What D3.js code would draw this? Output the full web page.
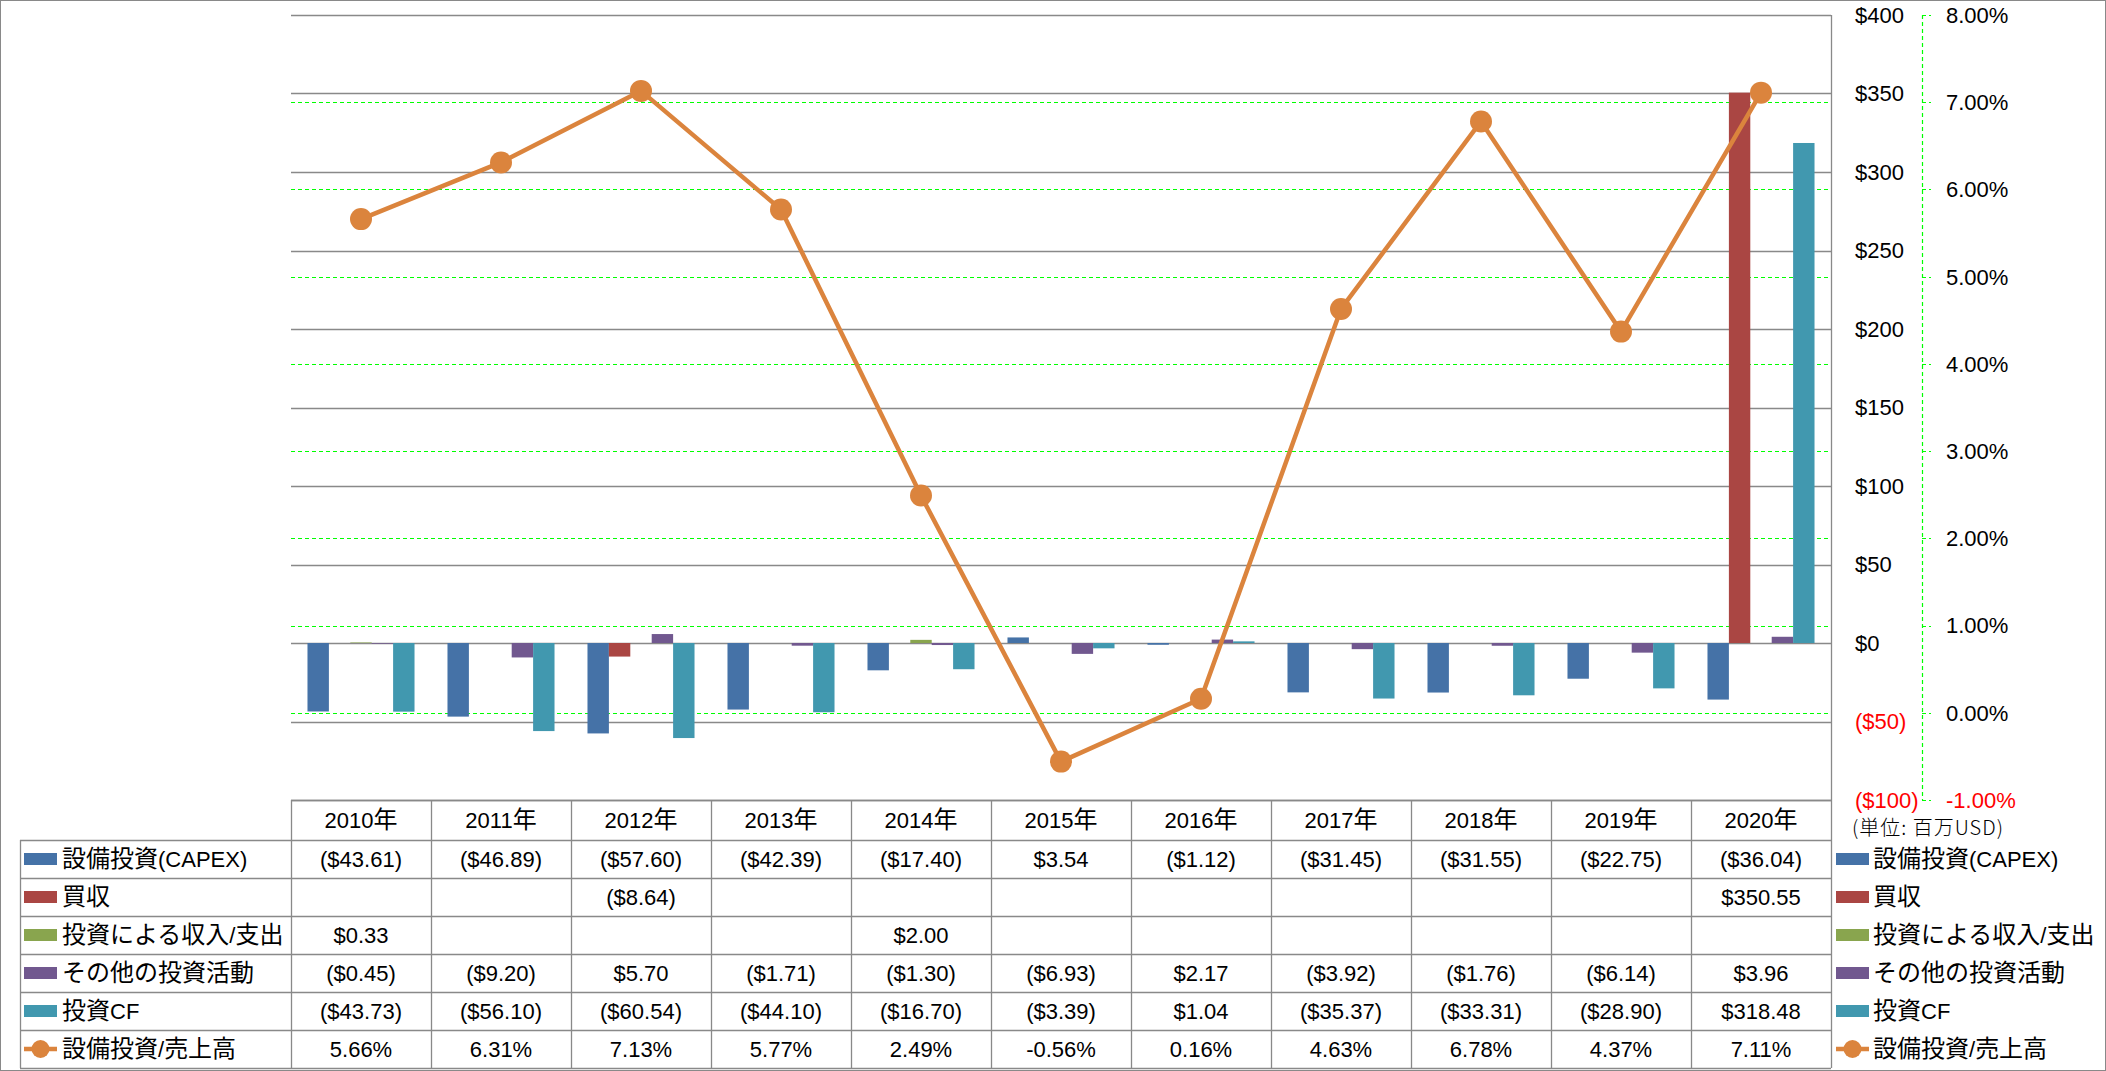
<!DOCTYPE html>
<html><head><meta charset="utf-8">
<script src="https://cdn.jsdelivr.net/npm/d3@7"></script>
<style>
html,body{margin:0;padding:0;background:#fff;}
svg text{font-family:"Liberation Sans","Noto Sans CJK JP",sans-serif;font-size:22px;fill:#000;}
svg tspan.cjk{font-family:"Noto Sans CJK JP",sans-serif;font-size:24px;}
</style></head><body>
<svg id="c" width="2106" height="1071"></svg>
<script>
const years = ["2010年","2011年","2012年","2013年","2014年","2015年","2016年","2017年","2018年","2019年","2020年"];
const seriesNames = ["設備投資(CAPEX)","買収","投資による収入/支出","その他の投資活動","投資CF"];
const capex  = [-43.61,-46.89,-57.60,-42.39,-17.40,3.54,-1.12,-31.45,-31.55,-22.75,-36.04];
const acq    = [null,null,-8.64,null,null,null,null,null,null,null,350.55];
const invInc = [0.33,null,null,null,2.00,null,null,null,null,null,null];
const other  = [-0.45,-9.20,5.70,-1.71,-1.30,-6.93,2.17,-3.92,-1.76,-6.14,3.96];
const invCF  = [-43.73,-56.10,-60.54,-44.10,-16.70,-3.39,1.04,-35.37,-33.31,-28.90,318.48];
const lineName = "設備投資/売上高";
const ratio  = [5.66,6.31,7.13,5.77,2.49,-0.56,0.16,4.63,6.78,4.37,7.11];
const usdTicks = [-100,-50,0,50,100,150,200,250,300,350,400];
const pctTicks = [-1,0,1,2,3,4,5,6,7,8];
const unitLabel = "(単位: 百万USD)";

const seriesVals = [capex, acq, invInc, other, invCF];
const colors = ["#4572A7","#AA4643","#89A54E","#71588F","#4198AF"];
const lineColor = "#DB843D";

const svg = d3.select("#c");
const L = 291, R = 1831, T = 15, B = 800;
const x = d3.scaleBand().domain(years).range([L, R]).padding(0);
const xs = d3.scaleBand().domain(d3.range(5)).range([0, x.bandwidth()]).paddingInner(0).paddingOuter(0.77);
const y = d3.scaleLinear().domain([-100, 400]).range([B, T]);
const p = d3.scaleLinear().domain([-1, 8]).range([B, T]);
const gray = "#898989";

function richText(sel, str){
  const runs = str.match(/[\u3000-\u9fff\uff00-\uffef]+|[^\u3000-\u9fff\uff00-\uffef]+/g) || [];
  runs.forEach(r=>{
    const t = sel.append("tspan").text(r);
    if(/[\u3000-\u9fff\uff00-\uffef]/.test(r)) t.attr("class","cjk");
  });
}

// outer border
svg.append("rect").attr("x",0.5).attr("y",0.5).attr("width",2105).attr("height",1070)
  .attr("fill","none").attr("stroke",gray).attr("stroke-width",1);

// gray gridlines
svg.append("g").selectAll("line").data(usdTicks).join("line")
  .attr("x1",L).attr("x2",R).attr("y1",d=>Math.round(y(d))+0.5).attr("y2",d=>Math.round(y(d))+0.5)
  .attr("stroke",gray).attr("stroke-width",1.3);
// green dashed gridlines
svg.append("g").selectAll("line").data(pctTicks.filter(d=>d>-1 && d<8)).join("line")
  .attr("x1",L).attr("x2",R).attr("y1",d=>Math.round(p(d))+0.5).attr("y2",d=>Math.round(p(d))+0.5)
  .attr("stroke","#00FF00").attr("stroke-width",1.2).attr("stroke-dasharray","4,3");

// bars
const barData = [];
seriesVals.forEach((vals,si)=>vals.forEach((v,i)=>{ if(v!==null) barData.push({si,i,v}); }));
svg.append("g").selectAll("rect").data(barData).join("rect")
  .attr("x",d=>x(years[d.i])+xs(d.si))
  .attr("width",xs.bandwidth())
  .attr("y",d=>Math.min(y(d.v),y(0)))
  .attr("height",d=>Math.abs(y(d.v)-y(0)))
  .attr("fill",d=>colors[d.si]);

// right plot edge line
svg.append("line").attr("x1",R+0.5).attr("x2",R+0.5).attr("y1",T).attr("y2",B)
  .attr("stroke",gray).attr("stroke-width",1.3);

// USD axis labels
svg.append("g").selectAll("text").data(usdTicks).join("text")
  .attr("x",1855).attr("y",d=>y(d)).attr("dy","0.36em")
  .style("fill",d=>d<0?"#FF0000":"#000")
  .text(d=>d<0?`($${-d})`:`$${d}`);

// pct axis line and ticks
const ax = 1922;
svg.append("line").attr("x1",ax+0.5).attr("x2",ax+0.5).attr("y1",p(8)).attr("y2",p(-1))
  .attr("stroke","#00FF00").attr("stroke-width",1.2).attr("stroke-dasharray","4,3");
svg.append("g").selectAll("line").data(pctTicks).join("line")
  .attr("x1",ax).attr("x2",ax+9).attr("y1",d=>Math.round(p(d))+0.5).attr("y2",d=>Math.round(p(d))+0.5)
  .attr("stroke","#00FF00").attr("stroke-width",1.2).attr("stroke-dasharray","4,3");
svg.append("g").selectAll("text").data(pctTicks).join("text")
  .attr("x",1946).attr("y",d=>p(d)).attr("dy","0.36em")
  .style("fill",d=>d<0?"#FF0000":"#000")
  .text(d=>d.toFixed(2)+"%");

// line
const cx = d=>x(d)+x.bandwidth()/2;
svg.append("path").datum(ratio)
  .attr("d",d3.line().x((d,i)=>cx(years[i])).y(d=>p(d)))
  .attr("fill","none").attr("stroke",lineColor).attr("stroke-width",4.5).attr("stroke-linejoin","round");
svg.append("g").selectAll("circle").data(ratio).join("circle")
  .attr("cx",(d,i)=>cx(years[i])).attr("cy",d=>p(d)).attr("r",11).attr("fill",lineColor);

// table
const rowTops = [840,878,916,954,992,1030,1068];
const tb = svg.append("g");
tb.append("line").attr("x1",L).attr("x2",R).attr("y1",B+0.5).attr("y2",B+0.5).attr("stroke",gray).attr("stroke-width",1.3);
rowTops.forEach(yy=>tb.append("line").attr("x1",20).attr("x2",R).attr("y1",yy+0.5).attr("y2",yy+0.5).attr("stroke",gray).attr("stroke-width",1.3));
d3.range(12).forEach(k=>{
  const xx = L + k*x.bandwidth();
  tb.append("line").attr("x1",xx+0.5).attr("x2",xx+0.5).attr("y1",B).attr("y2",1068).attr("stroke",gray).attr("stroke-width",1.3);
});
tb.append("line").attr("x1",20.5).attr("x2",20.5).attr("y1",840).attr("y2",1068).attr("stroke",gray).attr("stroke-width",1.3);
years.forEach(d=>{
  const t = tb.append("text").attr("x",cx(d)).attr("y",820).attr("dy","0.36em").attr("text-anchor","middle");
  richText(t, d);
});
const fmt = v => v===null ? "" : (v<0 ? `($${(-v).toFixed(2)})` : `$${v.toFixed(2)}`);
const allRows = seriesVals.map(v=>v.map(fmt)).concat([ratio.map(v=>v.toFixed(2)+"%")]);
allRows.forEach((row,ri)=>{
  const yc = (rowTops[ri]+rowTops[ri+1])/2;
  row.forEach((t,i)=>{ if(t) tb.append("text").attr("x",cx(years[i])).attr("y",yc).attr("dy","0.36em").attr("text-anchor","middle").text(t); });
});
const names = seriesNames.concat([lineName]);
function key(g, x0, yc, ri){
  if(ri<5){
    g.append("rect").attr("x",x0).attr("y",yc-6).attr("width",33).attr("height",12).attr("fill",colors[ri]);
  } else {
    g.append("line").attr("x1",x0).attr("x2",x0+33).attr("y1",yc).attr("y2",yc).attr("stroke",lineColor).attr("stroke-width",4.5);
    g.append("circle").attr("cx",x0+16.5).attr("cy",yc).attr("r",9).attr("fill",lineColor);
  }
}
names.forEach((n,ri)=>{
  const yc = (rowTops[ri]+rowTops[ri+1])/2;
  key(tb, 24, yc, ri);
  richText(tb.append("text").attr("x",62).attr("y",yc).attr("dy","0.36em"), n);
  key(tb, 1836, yc, ri);
  richText(tb.append("text").attr("x",1873).attr("y",yc).attr("dy","0.36em"), n);
});
// unit label
svg.append("text").attr("x",1852).attr("y",828).attr("dy","0.36em")
  .style("font-family","'Noto Sans CJK JP',sans-serif").style("font-weight","300").style("font-size","20px")
  .style("letter-spacing","1px")
  .text(unitLabel);
</script>
</body></html>
